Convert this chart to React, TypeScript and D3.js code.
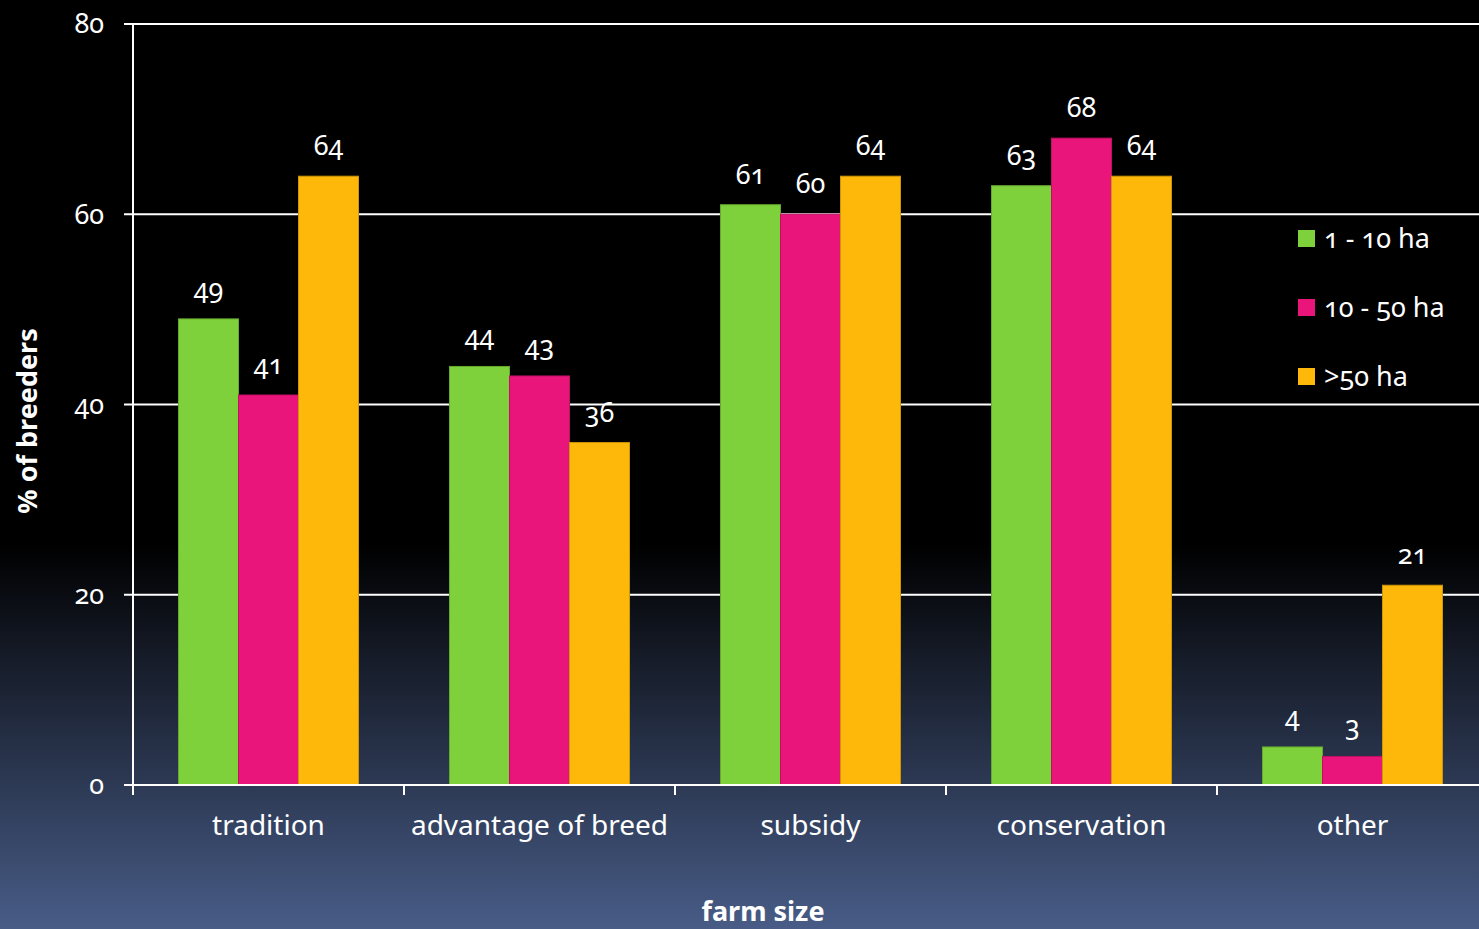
import React from "react";
import * as d3 from "d3";

const categories = ["tradition", "advantage of breed", "subsidy", "conservation", "other"];
const seriesNames = ["1 - 10 ha", "10 - 50 ha", ">50 ha"];
const small = [49, 44, 61, 63, 4];
const medium = [41, 43, 60, 68, 3];
const large = [64, 36, 64, 64, 21];
const yTicks = [0, 20, 40, 60, 80];
const colors = ["#7fd13b", "#ea157a", "#feb80a"];

const W = 1479;
const H = 929;
const FONT = "'Noto Sans', 'Open Sans', sans-serif";

export default function App() {
  const series = [small, medium, large];
  const left = 133;
  const step = 271;
  const x = d3
    .scaleBand<string>()
    .domain(categories)
    .range([left, left + step * categories.length])
    .paddingInner(0)
    .paddingOuter(0);
  const inner = d3
    .scaleBand<string>()
    .domain(seriesNames)
    .range([45.5, step - 45.5]);
  const y = d3.scaleLinear().domain([0, 80]).range([785, 24]);

  const numStyle: React.CSSProperties = {
    fontVariantNumeric: "oldstyle-nums",
    fontFeatureSettings: "'onum' 1",
  };

  return (
    <div style={{ position: "fixed", left: 0, top: 0, width: W, height: H }}>
      <svg width={W} height={H} style={{ display: "block", fontFamily: FONT }}>
        <defs>
          <linearGradient id="bg" x1="0" y1="0" x2="0" y2="1">
            <stop offset="0" stopColor="#000000" />
            <stop offset="0.585" stopColor="#000000" />
            <stop offset="1" stopColor="#485c87" />
          </linearGradient>
        </defs>
        <rect x={0} y={0} width={W} height={H} fill="url(#bg)" />

        {/* horizontal gridlines with left tick marks */}
        {yTicks.map((t) => (
          <g key={"g" + t}>
            {t > 0 && (
              <line x1={left} x2={W} y1={y(t)} y2={y(t)} stroke="#ffffff" strokeWidth={2} />
            )}
            <line x1={124} x2={left} y1={y(t)} y2={y(t)} stroke="#ffffff" strokeWidth={2} />
            <text
              x={104}
              y={y(t)}
              dy="0.35em"
              textAnchor="end"
              fill="#ffffff"
              fontSize={27}
              style={numStyle}
            >
              {t}
            </text>
          </g>
        ))}

        {/* bars */}
        {categories.map((c, i) => (
          <g key={c} transform={`translate(${x(c)},0)`}>
            {series.map((s, k) => {
              const v = s[i];
              const bx = inner(seriesNames[k])!;
              const bw = inner.bandwidth();
              return (
                <g key={k}>
                  <rect
                    x={bx}
                    y={y(v)}
                    width={bw}
                    height={y(0) - y(v)}
                    fill={colors[k]}
                    stroke={d3.color(colors[k])!.darker(0.6).formatHex()}
                    strokeWidth={1}
                  />
                  <text
                    x={bx + bw / 2}
                    y={y(v) - 21}
                    textAnchor="middle"
                    fill="#ffffff"
                    fontSize={27}
                    style={numStyle}
                  >
                    {v}
                  </text>
                </g>
              );
            })}
          </g>
        ))}

        {/* axes lines */}
        <line x1={left} x2={left} y1={y(80)} y2={y(0)} stroke="#ffffff" strokeWidth={2} />
        <line x1={left} x2={W} y1={y(0)} y2={y(0)} stroke="#ffffff" strokeWidth={2} />
        {categories.map((c) => (
          <line
            key={"t" + c}
            x1={x(c)!}
            x2={x(c)!}
            y1={y(0)}
            y2={y(0) + 10}
            stroke="#ffffff"
            strokeWidth={2}
          />
        ))}
        {categories.map((c) => (
          <text
            key={"l" + c}
            x={x(c)! + x.bandwidth() / 2}
            y={835}
            textAnchor="middle"
            fill="#ffffff"
            fontSize={28}
          >
            {c}
          </text>
        ))}

        {/* axis titles */}
        <text
          x={763}
          y={921}
          textAnchor="middle"
          fill="#ffffff"
          fontSize={27}
          fontWeight="bold"
        >
          farm size
        </text>
        <text
          transform={`translate(37,421) rotate(-90)`}
          textAnchor="middle"
          fill="#ffffff"
          fontSize={27}
          fontWeight="bold"
        >
          % of breeders
        </text>

        {/* legend */}
        {seriesNames.map((n, k) => (
          <g key={n} transform={`translate(1298,${230 + k * 69})`}>
            <rect x={0} y={0} width={17} height={17} fill={colors[k]} />
            <text x={26} y={8.5} dy="0.35em" fill="#ffffff" fontSize={27} style={numStyle}>
              {n}
            </text>
          </g>
        ))}
      </svg>
    </div>
  );
}
